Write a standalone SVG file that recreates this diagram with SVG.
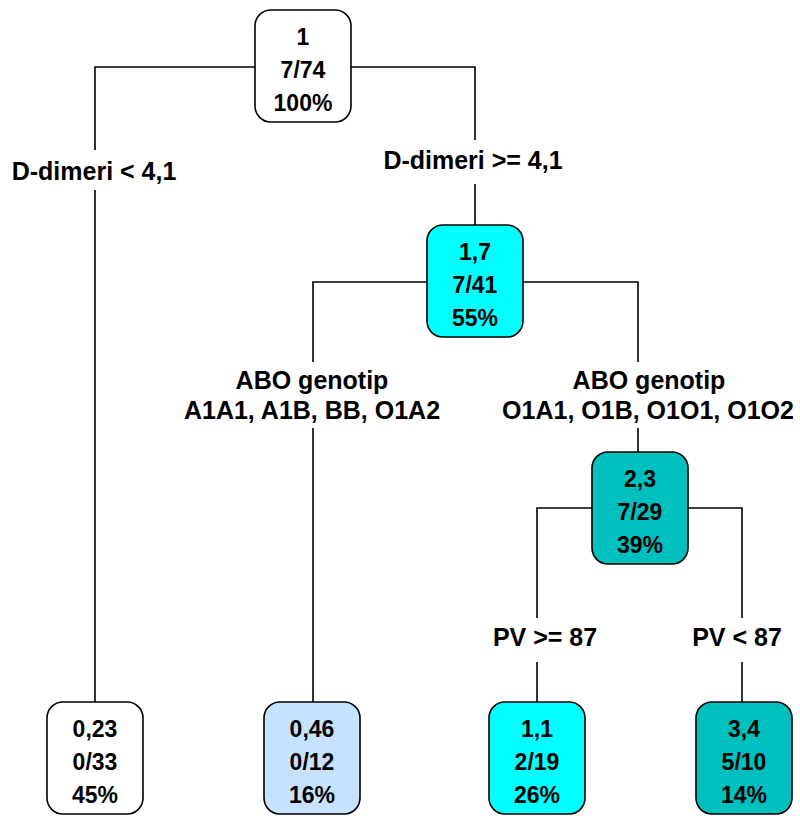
<svg xmlns="http://www.w3.org/2000/svg" width="800" height="816" viewBox="0 0 800 816">
<style>
.box{stroke:#000;stroke-width:1.6}
.nt{font-family:"Liberation Sans",Arial,sans-serif;font-size:23px;font-weight:bold;text-anchor:middle;fill:#000}
.lb{font-family:"Liberation Sans",Arial,sans-serif;font-size:25px;font-weight:bold;text-anchor:middle;fill:#000}
.c{fill:none;stroke:#000;stroke-width:1.6}
</style>
<rect width="800" height="816" fill="#fff"/>
<g id="connectors">
<path class="c" d="M255 67H95V150M95 190V702"/>
<path class="c" d="M351 67H475V140M475 184V225"/>
<path class="c" d="M427 282H313V362M313 428V702"/>
<path class="c" d="M523 282H638V362M638 428V452"/>
<path class="c" d="M592 508H537V618M537 662V702"/>
<path class="c" d="M688 508H742V618M742 662V702"/>
</g>
<g id="labels">
<text class="lb" x="94" y="180">D-dimeri &lt; 4,1</text>
<text class="lb" x="473" y="169">D-dimeri &gt;= 4,1</text>
<text class="lb" x="312" y="389">ABO genotip</text>
<text class="lb" x="312" y="419">A1A1, A1B, BB, O1A2</text>
<text class="lb" x="649" y="389">ABO genotip</text>
<text class="lb" x="648" y="419">O1A1, O1B, O1O1, O1O2</text>
<text class="lb" x="545" y="646">PV &gt;= 87</text>
<text class="lb" x="737" y="646">PV &lt; 87</text>
</g>
<g id="n1">
<rect class="box" x="255" y="10" width="96" height="112" rx="16" fill="#fff"/>
<text class="nt" x="303" y="45">1</text>
<text class="nt" x="303" y="78">7/74</text>
<text class="nt" x="303" y="111">100%</text>
</g>
<g id="n2">
<rect class="box" x="427" y="225" width="96" height="112" rx="16" fill="#00FFFF"/>
<text class="nt" x="475" y="260">1,7</text>
<text class="nt" x="475" y="293">7/41</text>
<text class="nt" x="475" y="326">55%</text>
</g>
<g id="n3">
<rect class="box" x="592" y="452" width="96" height="112" rx="16" fill="#00BFBF"/>
<text class="nt" x="640" y="487">2,3</text>
<text class="nt" x="640" y="520">7/29</text>
<text class="nt" x="640" y="553">39%</text>
</g>
<g id="l1">
<rect class="box" x="47" y="702" width="96" height="112" rx="16" fill="#fff"/>
<text class="nt" x="95" y="737">0,23</text>
<text class="nt" x="95" y="770">0/33</text>
<text class="nt" x="95" y="803">45%</text>
</g>
<g id="l2">
<rect class="box" x="264" y="702" width="96" height="112" rx="16" fill="#C6E2FF"/>
<text class="nt" x="312" y="737">0,46</text>
<text class="nt" x="312" y="770">0/12</text>
<text class="nt" x="312" y="803">16%</text>
</g>
<g id="l3">
<rect class="box" x="489" y="702" width="96" height="112" rx="16" fill="#00FFFF"/>
<text class="nt" x="537" y="737">1,1</text>
<text class="nt" x="537" y="770">2/19</text>
<text class="nt" x="537" y="803">26%</text>
</g>
<g id="l4">
<rect class="box" x="696" y="702" width="96" height="112" rx="16" fill="#00BFBF"/>
<text class="nt" x="744" y="737">3,4</text>
<text class="nt" x="744" y="770">5/10</text>
<text class="nt" x="744" y="803">14%</text>
</g>
</svg>
